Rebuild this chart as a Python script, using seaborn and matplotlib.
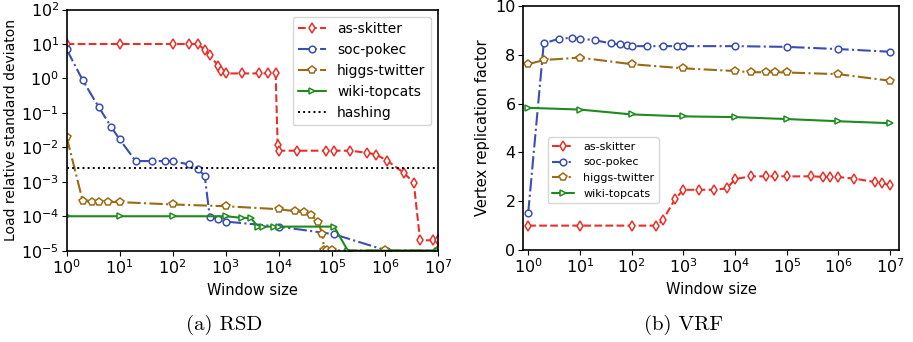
import matplotlib
matplotlib.use("Agg")
import matplotlib.pyplot as plt
import matplotlib.ticker as mticker
import seaborn as sns

# ---- data: load relative standard deviation (left panel)
rsd_skitter_x = [1, 10, 100, 200, 300, 400, 500, 720, 830, 1000, 2050, 4300, 6300, 8700, 9500,
                 1e4, 2.2e4, 7.6e4, 1.1e5, 2.2e5, 4.5e5, 6.8e5, 1.1e6, 2.3e6, 3.5e6, 4.6e6, 8e6, 1e7]
rsd_skitter_y = [10, 10, 10, 10, 10, 6.7, 4.8, 2.3, 1.7, 1.4, 1.4, 1.4, 1.4, 1.4, 0.012,
                 0.008, 0.008, 0.008, 0.008, 0.008, 0.007, 0.0062, 0.0041, 0.0018, 0.00093, 2e-5, 2e-5, 2e-5]

rsd_pokec_x = [1, 2, 4, 7, 10, 20, 40, 70, 100, 200, 300, 400, 500, 700, 1000, 1e4, 1.1e5, 1.1e6, 1e7]
rsd_pokec_y = [7, 0.9, 0.15, 0.038, 0.017, 0.004, 0.004, 0.004, 0.004, 0.0032, 0.0023, 0.0015,
               9.4e-5, 8.5e-5, 7e-5, 5e-5, 3e-5, 1e-5, 1e-5]

rsd_higgs_x = [1, 2, 3, 4, 6, 10, 100, 1000, 1e4, 2e4, 3e4, 4e4, 5.5e4, 6.6e4, 7.2e4, 8.2e4, 1e5, 1e6, 1e7]
rsd_higgs_y = [0.02, 2.85e-4, 2.6e-4, 2.6e-4, 2.6e-4, 2.57e-4, 2.2e-4, 1.95e-4, 1.6e-4, 1.4e-4,
               1.3e-4, 1.1e-4, 7e-5, 3e-5, 1.02e-5, 1.02e-5, 1.02e-5, 1.02e-5, 1.02e-5]

rsd_wiki_x = [1, 10, 100, 1000, 2000, 3000, 4000, 5000, 8000, 1e4, 1.1e5, 2e5, 1e7]
rsd_wiki_y = [1e-4, 1e-4, 1e-4, 1e-4, 9e-5, 8.8e-5, 5e-5, 5e-5, 5e-5, 5e-5, 5e-5, 1e-5, 1e-5]

hashing_x = [1, 1e7]
hashing_y = [0.0025, 0.0025]

# ---- data: vertex replication factor (right panel)
vrf_skitter_x = [1, 10, 100, 300, 400, 700, 1000, 2000, 4000, 7000, 1e4, 2e4, 4e4, 6e4, 1e5,
                 3e5, 5e5, 7e5, 1e6, 2e6, 5e6, 7e6, 1e7]
vrf_skitter_y = [1, 1, 1, 1, 1.22, 2.1, 2.47, 2.47, 2.47, 2.53, 2.91, 3.02, 3.02, 3.02, 3.02,
                 3.02, 3.0, 3.0, 2.99, 2.93, 2.79, 2.75, 2.65]

vrf_pokec_x = [1, 2, 4, 7, 10, 20, 40, 60, 80, 100, 200, 400, 760, 1000, 1e4, 1e5, 1e6, 1e7]
vrf_pokec_y = [1.5, 8.47, 8.67, 8.7, 8.67, 8.6, 8.47, 8.43, 8.4, 8.36, 8.36, 8.36, 8.36, 8.36,
               8.36, 8.33, 8.24, 8.13]

vrf_higgs_x = [1, 2, 10, 100, 1000, 1e4, 2e4, 4e4, 6e4, 1e5, 1e6, 1e7]
vrf_higgs_y = [7.62, 7.79, 7.89, 7.62, 7.45, 7.34, 7.29, 7.29, 7.29, 7.28, 7.21, 6.94]

vrf_wiki_x = [1, 10, 100, 1000, 1e4, 1e5, 1e6, 1e7]
vrf_wiki_y = [5.83, 5.76, 5.56, 5.48, 5.45, 5.37, 5.28, 5.2]

names = ["as-skitter", "soc-pokec", "higgs-twitter", "wiki-topcats"]
colors = ["#e8302a", "#3a4fae", "#9b6a14", "#1f8a1f"]
markers = ["d", "o", "p", ">"]
msizes = [5.5, 4.8, 5.8, 5]
styles = ["--", "-.", "-.", "-"]

sns.set_style("ticks", {"axes.edgecolor": "black", "xtick.color": "black",
                        "ytick.color": "black", "text.color": "black",
                        "axes.labelcolor": "black"})
plt.rcParams["font.family"] = ["DejaVu Sans"]
plt.rcParams["xtick.major.size"] = 3.5
plt.rcParams["ytick.major.size"] = 3.5

fig = plt.figure(figsize=(9.13, 3.42), dpi=100)
ax1 = fig.add_axes([0.073, 0.267, 0.4067, 0.705])
ax2 = fig.add_axes([0.573, 0.269, 0.412, 0.713])


def draw(ax, series):
    for (xs, ys), name, c, m, ms, ls in zip(series, names, colors, markers, msizes, styles):
        sns.lineplot(x=xs, y=ys, ax=ax, color=c, marker=m, linestyle=ls, label=name,
                     markersize=ms, markerfacecolor="white", markeredgecolor=c,
                     markeredgewidth=1.1, linewidth=1.5, sort=False, estimator=None)


# left panel
ax1.set_xscale("log")
ax1.set_yscale("log")
draw(ax1, [(rsd_skitter_x, rsd_skitter_y), (rsd_pokec_x, rsd_pokec_y),
           (rsd_higgs_x, rsd_higgs_y), (rsd_wiki_x, rsd_wiki_y)])
sns.lineplot(x=hashing_x, y=hashing_y, ax=ax1, color="black", linestyle=":",
             linewidth=1.4, label="hashing")
ax1.set_xlim(1, 1e7)
ax1.set_ylim(1e-5, 1e2)
ax1.xaxis.set_major_locator(mticker.LogLocator(base=10, numticks=10))
ax1.yaxis.set_major_locator(mticker.LogLocator(base=10, numticks=10))
ax1.minorticks_off()
ax1.set_xlabel("Window size", fontsize=10.5)
ax1.set_ylabel("Load relative standard deviaton", fontsize=10, labelpad=2)
ax1.tick_params(labelsize=11.5, pad=2)
ax1.legend(loc="upper right", fontsize=10)

# right panel
ax2.set_xscale("log")
draw(ax2, [(vrf_skitter_x, vrf_skitter_y), (vrf_pokec_x, vrf_pokec_y),
           (vrf_higgs_x, vrf_higgs_y), (vrf_wiki_x, vrf_wiki_y)])
ax2.set_xlim(0.8, 1.5e7)
ax2.set_ylim(0, 10)
ax2.set_yticks([0, 2, 4, 6, 8, 10])
ax2.xaxis.set_major_locator(mticker.LogLocator(base=10, numticks=10))
ax2.minorticks_off()
ax2.set_xlabel("Window size", fontsize=10.5)
ax2.set_ylabel("Vertex replication factor", fontsize=10.5)
ax2.tick_params(labelsize=11.5, pad=2)
ax2.legend(loc="lower left", bbox_to_anchor=(0.05, 0.17), fontsize=8)

for ax in (ax1, ax2):
    for sp in ax.spines.values():
        sp.set_visible(True)
        sp.set_linewidth(1.2)

fig.text(0.245, 0.035, "(a) RSD", family="cmr10", fontsize=15, ha="center")
fig.text(0.749, 0.035, "(b) VRF", family="cmr10", fontsize=15, ha="center")

fig.savefig("out.png", dpi=100)
